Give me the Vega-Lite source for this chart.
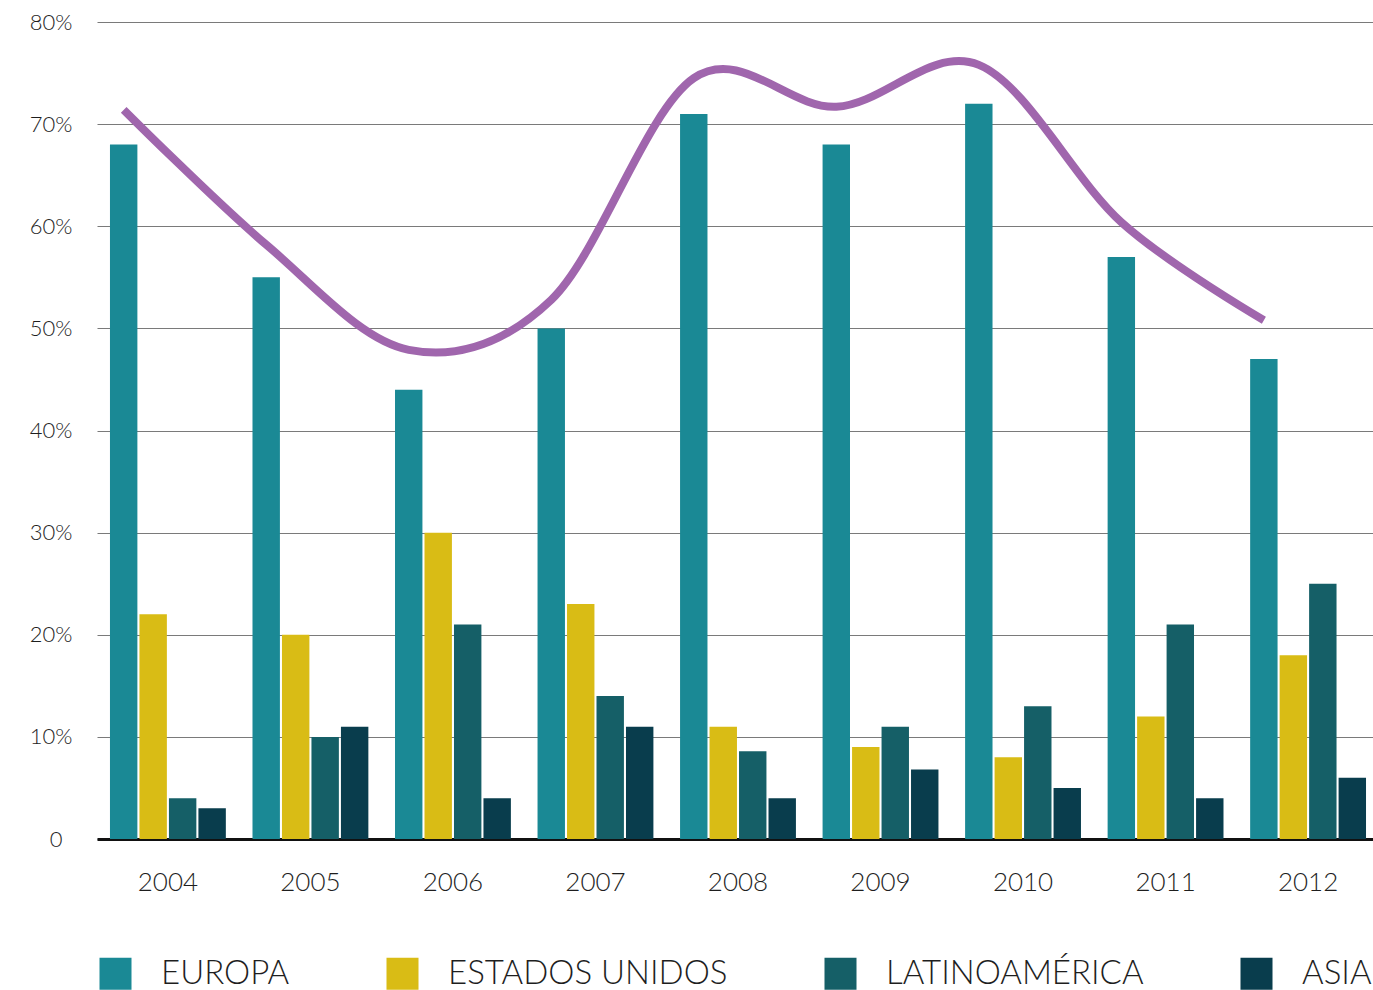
{
  "$schema": "https://vega.github.io/schema/vega-lite/v6.json",
  "autosize": {"type": "none"},
  "padding": {"left": 97, "top": 22, "right": 0, "bottom": 151},
  "width": 1276,
  "height": 817,
  "background": "#ffffff",
  "config": {
    "view": {"stroke": null},
    "font": "Lato",
    "axis": {"labelFont": "Lato", "labelFontWeight": 300, "labelColor": "#1e1e1e"},
    "legend": {"labelFont": "Lato", "labelFontWeight": 300, "labelColor": "#1e1e1e"}
  },
  "datasets": {
    "bars": [
      {"year": "2004", "region": "EUROPA", "value": 68},
      {"year": "2004", "region": "ESTADOS UNIDOS", "value": 22},
      {"year": "2004", "region": "LATINOAMÉRICA", "value": 4},
      {"year": "2004", "region": "ASIA", "value": 3},
      {"year": "2005", "region": "EUROPA", "value": 55},
      {"year": "2005", "region": "ESTADOS UNIDOS", "value": 20},
      {"year": "2005", "region": "LATINOAMÉRICA", "value": 10},
      {"year": "2005", "region": "ASIA", "value": 11},
      {"year": "2006", "region": "EUROPA", "value": 44},
      {"year": "2006", "region": "ESTADOS UNIDOS", "value": 30},
      {"year": "2006", "region": "LATINOAMÉRICA", "value": 21},
      {"year": "2006", "region": "ASIA", "value": 4},
      {"year": "2007", "region": "EUROPA", "value": 50},
      {"year": "2007", "region": "ESTADOS UNIDOS", "value": 23},
      {"year": "2007", "region": "LATINOAMÉRICA", "value": 14},
      {"year": "2007", "region": "ASIA", "value": 11},
      {"year": "2008", "region": "EUROPA", "value": 71},
      {"year": "2008", "region": "ESTADOS UNIDOS", "value": 11},
      {"year": "2008", "region": "LATINOAMÉRICA", "value": 8.6},
      {"year": "2008", "region": "ASIA", "value": 4},
      {"year": "2009", "region": "EUROPA", "value": 68},
      {"year": "2009", "region": "ESTADOS UNIDOS", "value": 9},
      {"year": "2009", "region": "LATINOAMÉRICA", "value": 11},
      {"year": "2009", "region": "ASIA", "value": 6.8},
      {"year": "2010", "region": "EUROPA", "value": 72},
      {"year": "2010", "region": "ESTADOS UNIDOS", "value": 8},
      {"year": "2010", "region": "LATINOAMÉRICA", "value": 13},
      {"year": "2010", "region": "ASIA", "value": 5},
      {"year": "2011", "region": "EUROPA", "value": 57},
      {"year": "2011", "region": "ESTADOS UNIDOS", "value": 12},
      {"year": "2011", "region": "LATINOAMÉRICA", "value": 21},
      {"year": "2011", "region": "ASIA", "value": 4},
      {"year": "2012", "region": "EUROPA", "value": 47},
      {"year": "2012", "region": "ESTADOS UNIDOS", "value": 18},
      {"year": "2012", "region": "LATINOAMÉRICA", "value": 25},
      {"year": "2012", "region": "ASIA", "value": 6}
    ],
    "line": [
      {"year": "2004", "value": 71.4},
      {"year": "2005", "value": 58.2},
      {"year": "2006", "value": 47.9},
      {"year": "2007", "value": 52.8},
      {"year": "2008", "value": 74.5},
      {"year": "2009", "value": 71.7},
      {"year": "2010", "value": 75.8},
      {"year": "2011", "value": 60.4},
      {"year": "2012", "value": 50.8}
    ]
  },
  "layer": [
    {
      "data": {"name": "bars"},
      "mark": {"type": "bar"},
      "encoding": {
        "x": {
          "field": "year", "type": "nominal",
          "scale": {"type": "band", "paddingInner": 0.187, "paddingOuter": 0.07, "align": 0.65},
          "axis": {
            "title": null, "labelAngle": 0, "ticks": false,
            "domain": true, "domainColor": "#111111", "domainWidth": 3,
            "labelFontSize": 26, "labelPadding": 30, "grid": false
          }
        },
        "xOffset": {
          "field": "region", "type": "nominal",
          "scale": {"domain": ["EUROPA", "ESTADOS UNIDOS", "LATINOAMÉRICA", "ASIA"], "paddingInner": 0.07, "paddingOuter": 0}
        },
        "y": {
          "field": "value", "type": "quantitative",
          "scale": {"domain": [0, 80], "nice": false},
          "axis": {
            "title": null, "values": [0, 10, 20, 30, 40, 50, 60, 70, 80],
            "labelExpr": "datum.value == 0 ? '0' : datum.value + '%'",
            "domain": false, "ticks": false, "grid": true,
            "gridColor": "#7a7a7a", "gridWidth": 1.2,
            "labelFontSize": 22,
            "labelPadding": {"condition": {"test": "datum.value == 0", "value": 35}, "value": 25}
          }
        },
        "color": {
          "field": "region", "type": "nominal",
          "scale": {
            "domain": ["EUROPA", "ESTADOS UNIDOS", "LATINOAMÉRICA", "ASIA"],
            "range": ["#1a8995", "#d9bc15", "#155f67", "#093d4d"]
          },
          "legend": {
            "title": null, "orient": "none", "legendX": 2, "legendY": 935,
            "direction": "horizontal", "symbolType": "square", "symbolSize": 1024,
            "symbolStrokeWidth": 0, "symbolOpacity": 1,
            "labelFontSize": 33, "labelOffset": 29, "columnPadding": 96,
            "padding": 0, "labelLimit": 500
          }
        }
      }
    },
    {
      "data": {"name": "line"},
      "mark": {"type": "line", "interpolate": "cardinal", "strokeWidth": 8, "color": "#a066ad", "strokeCap": "butt"},
      "encoding": {
        "x": {
          "field": "year", "type": "nominal", "bandPosition": 0.1185,
          "scale": {"type": "band", "paddingInner": 0.187, "paddingOuter": 0.07, "align": 0.65}
        },
        "y": {"field": "value", "type": "quantitative"}
      }
    }
  ]
}
